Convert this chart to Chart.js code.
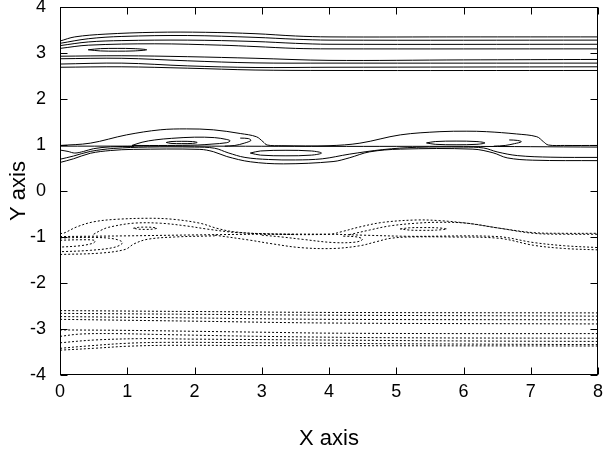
<!DOCTYPE html>
<html>
<head>
<meta charset="utf-8">
<title>contour</title>
<script src="https://cdn.jsdelivr.net/npm/chart.js@4.4.1/dist/chart.umd.min.js"></script>
<style>
  body { margin: 0; background: #fff; }
  #wrap { width: 606px; height: 454px; }
</style>
</head>
<body>
<div id="wrap"><canvas id="contourChart" width="606" height="454"></canvas></div>
<script>
// tick values
const xTicks = [0, 1, 2, 3, 4, 5, 6, 7, 8];
const yTicks = [-4, -3, -2, -1, 0, 1, 2, 3, 4];

// solid contours, band near y = 3
const top1 = [[0,3.26],[0.22,3.35],[0.67,3.41],[1.41,3.45],[2.16,3.45],[2.9,3.42],[3.5,3.37],[4.0,3.35],[6,3.35],[8,3.35]];
const top2 = [[0,3.21],[0.42,3.31],[0.92,3.36],[1.9,3.38],[2.9,3.34],[3.5,3.30],[4.0,3.28],[8,3.28]];
const top3 = [[0,3.16],[0.42,3.24],[0.92,3.27],[1.9,3.28],[2.9,3.25],[3.5,3.21],[4.0,3.19],[8,3.19]];
const top4 = [[0,3.10],[0.42,3.17],[1.41,3.20],[2.4,3.17],[2.9,3.14],[3.5,3.10],[4.0,3.09],[8,3.09]];
const topEll = [[0.42,3.07],[0.6,3.095],[0.85,3.1],[1.1,3.095],[1.29,3.07],[1.1,3.045],[0.85,3.04],[0.6,3.045],[0.42,3.07]];
const top5 = [[0,2.93],[0.92,2.94],[1.9,2.92],[2.9,2.885],[4.0,2.84],[6,2.85],[8,2.86]];
const top6 = [[0,2.875],[0.92,2.885],[1.9,2.83],[2.9,2.785],[4.0,2.78],[8,2.78]];
const top7 = [[0,2.76],[0.92,2.78],[1.9,2.72],[2.9,2.685],[4.0,2.69],[8,2.70]];
const top8 = [[0,2.69],[0.92,2.70],[1.9,2.67],[2.9,2.63],[4.0,2.62],[8,2.62]];

// solid contours, band near y = 1
const midOuterUp = [[0,0.99],[0.45,1.04],[0.99,1.22],[1.49,1.33],[1.88,1.35],[2.28,1.33],[2.68,1.25],[2.92,1.18],[3.02,1.07],[3.08,1.0],[3.3,0.985],[4.0,0.985],[4.46,1.04],[5.06,1.22],[5.65,1.29],[6.05,1.30],[6.34,1.29],[6.79,1.24],[7.09,1.18],[7.19,1.07],[7.26,1.0],[7.5,0.99],[8,0.99]];
const midOuterLow = [[0,0.62],[0.2,0.7],[0.45,0.82],[0.75,0.88],[1.09,0.905],[2.08,0.905],[2.28,0.855],[2.48,0.75],[2.83,0.635],[3.32,0.59],[4.06,0.64],[4.3,0.72],[4.6,0.85],[5.06,0.91],[6.14,0.91],[6.44,0.83],[6.65,0.72],[7.03,0.67],[8,0.66]];
const midInnerLow = [[0,0.69],[0.2,0.76],[0.45,0.86],[0.8,0.925],[1.3,0.955],[2.0,0.955],[2.3,0.93],[2.5,0.83],[2.75,0.73],[3.1,0.685],[3.5,0.675],[3.9,0.7],[4.3,0.8],[4.8,0.9],[5.3,0.95],[6.0,0.955],[6.3,0.935],[6.5,0.85],[6.8,0.77],[7.3,0.735],[8,0.73]];
const midCenter = [[0,0.975],[2,0.975],[4,0.97],[6,0.97],[8,0.955]];
const midFish = [[0,0.89],[0.12,0.86],[0.22,0.825],[0.35,0.86],[0.5,0.92],[0.75,0.96],[1.1,0.97]];
const midLoop1 = [[1.07,0.99],[1.22,1.06],[1.41,1.11],[1.66,1.145],[2.0,1.17],[2.3,1.16],[2.48,1.12],[2.53,1.09],[2.48,1.05],[2.26,1.02],[2.05,1.0],[1.6,0.99],[1.07,0.99]];
const midHook1 = [[2.45,0.975],[2.6,0.99],[2.74,1.04],[2.84,1.1],[2.8,1.14],[2.68,1.15]];
const midHook2 = [[6.45,0.975],[6.62,0.99],[6.76,1.03],[6.86,1.07],[6.8,1.1],[6.68,1.11]];
const midEll1 = [[1.58,1.055],[1.65,1.075],[1.81,1.08],[1.97,1.075],[2.04,1.055],[1.97,1.035],[1.81,1.03],[1.65,1.035],[1.58,1.055]];
const midEll2 = [[2.83,0.825],[2.98,0.87],[3.36,0.885],[3.74,0.87],[3.89,0.825],[3.74,0.78],[3.36,0.765],[2.98,0.78],[2.83,0.825]];
const midEll3 = [[5.45,1.045],[5.58,1.075],[5.89,1.085],[6.2,1.075],[6.32,1.045],[6.2,1.015],[5.89,1.005],[5.58,1.015],[5.45,1.045]];

// dotted contours, band near y = -1
const lowOuterUp = [[0,-0.92],[0.05,-0.92],[0.25,-0.78],[0.5,-0.67],[0.84,-0.615],[1.34,-0.593],[1.68,-0.615],[2.08,-0.70],[2.33,-0.81],[2.58,-0.885],[3.07,-0.935],[4.01,-0.94],[4.2,-0.88],[4.46,-0.78],[4.81,-0.68],[5.30,-0.63],[5.65,-0.645],[6.05,-0.70],[6.54,-0.81],[7.04,-0.905],[7.5,-0.92],[8,-0.92]];
const lowInnerUp1 = [[0.5,-0.94],[0.6,-0.86],[0.72,-0.79],[1.09,-0.70],[1.49,-0.70],[1.88,-0.76],[2.2,-0.83],[2.6,-0.9],[3.07,-0.93],[3.5,-0.945]];
const lowInnerUp2 = [[4.3,-0.95],[4.6,-0.85],[4.9,-0.76],[5.3,-0.70],[5.65,-0.68],[6.05,-0.70],[6.54,-0.81],[7.04,-0.92],[7.5,-0.94],[8,-0.94]];
const lowEll1 = [[1.09,-0.81],[1.17,-0.79],[1.27,-0.785],[1.37,-0.79],[1.44,-0.81],[1.37,-0.83],[1.27,-0.835],[1.17,-0.83],[1.09,-0.81]];
const lowEll2 = [[5.06,-0.825],[5.2,-0.8],[5.4,-0.795],[5.6,-0.8],[5.75,-0.825],[5.6,-0.85],[5.4,-0.855],[5.2,-0.85],[5.06,-0.825]];
const lowCenter = [[0,-0.99],[1,-0.975],[2,-0.955],[3,-0.94],[4,-0.94],[4.5,-0.96],[5.2,-0.985],[6.5,-0.99],[7.04,-1.12],[7.5,-1.19],[8,-1.23]];
const lowMidLoop = [[2.3,-0.96],[2.83,-1.07],[3.12,-1.14],[3.57,-1.23],[4.06,-1.25],[4.46,-1.19],[4.71,-1.10],[4.91,-1.03],[5.2,-1.0],[5.8,-1.0],[6.54,-1.03],[7.04,-1.18],[7.5,-1.25],[8,-1.28]];
const lowMidInner = [[3.0,-0.96],[3.3,-1.0],[3.6,-1.05],[4.06,-1.12],[4.4,-1.11],[4.5,-1.05],[4.42,-1.0],[4.2,-0.98]];
const lowLeftA = [[0,-1.07],[0.35,-1.06],[0.52,-1.075],[0.5,-1.13],[0.3,-1.19],[0,-1.22]];
const lowLeftB = [[0,-1.02],[0.5,-1.01],[0.8,-1.04],[0.93,-1.12],[0.82,-1.22],[0.45,-1.29],[0,-1.32]];
const lowLeftC = [[0,-1.38],[0.6,-1.35],[0.97,-1.27],[1.1,-1.15],[1.3,-1.05],[1.7,-1.0],[2.3,-0.975]];

// dotted contours, band near y = -3
const bot1 = [[0,-2.60],[2,-2.62],[4,-2.64],[8,-2.65]];
const bot2 = [[0,-2.66],[2,-2.68],[4,-2.70],[8,-2.72]];
const bot3 = [[0,-2.73],[2,-2.76],[4,-2.79],[8,-2.80]];
const bot4 = [[0,-2.79],[2,-2.83],[4,-2.87],[8,-2.89]];
const bot5 = [[0,-3.02],[1,-3.03],[2,-3.05],[3,-3.07],[4,-3.09],[6,-3.10],[8,-3.10]];
const bot6 = [[0,-3.16],[0.3,-3.11],[0.8,-3.10],[1.5,-3.12],[3,-3.16],[5,-3.19],[8,-3.20]];
const bot7 = [[0,-3.30],[0.5,-3.24],[1.2,-3.21],[2,-3.22],[4,-3.24],[6,-3.26],[8,-3.27]];
const bot8 = [[0,-3.42],[0.4,-3.37],[1,-3.31],[1.6,-3.29],[3,-3.30],[5,-3.32],[8,-3.34]];
const bot9 = [[0,-3.46],[0.5,-3.42],[1.0,-3.375],[1.6,-3.355],[3,-3.36],[8,-3.37]];

const solidLines = [top1, top2, top3, top4, topEll, top5, top6, top7, top8,
  midOuterUp, midOuterLow, midInnerLow, midCenter, midFish, midLoop1, midHook1, midHook2, midEll1, midEll2, midEll3];
const dottedLines = [lowOuterUp, lowInnerUp1, lowInnerUp2, lowEll1, lowEll2, lowCenter, lowMidLoop, lowMidInner,
  lowLeftA, lowLeftB, lowLeftC, bot1, bot2, bot3, bot4, bot5, bot6, bot7, bot8, bot9];

function makeSet(pts, dash) {
  return {
    data: pts.map(p => ({ x: p[0], y: p[1] })),
    showLine: true,
    borderColor: '#000',
    borderWidth: 1,
    borderDash: dash,
    pointRadius: 0,
    tension: 0.35,
    fill: false
  };
}

const datasets = solidLines.map(l => makeSet(l, []))
  .concat(dottedLines.map(l => makeSet(l, [2, 2])));

// ticks drawn inside the frame, plus the closed border
const frameTicks = {
  id: 'frameTicks',
  afterDatasetsDraw(chart) {
    const { ctx, chartArea: a, scales } = chart;
    const L = Math.round(a.left) + 0.5, R = Math.round(a.right) - 0.5;
    const T = Math.round(a.top) + 0.5, B = Math.round(a.bottom) - 0.5;
    ctx.save();
    ctx.strokeStyle = '#000';
    ctx.lineWidth = 1;
    ctx.beginPath();
    xTicks.forEach(v => {
      const px = Math.round(scales.x.getPixelForValue(v)) + 0.5;
      ctx.moveTo(px, B); ctx.lineTo(px, B - 7);
      ctx.moveTo(px, T); ctx.lineTo(px, T + 7);
    });
    yTicks.forEach(v => {
      const py = Math.round(scales.y.getPixelForValue(v)) + 0.5;
      ctx.moveTo(L, py); ctx.lineTo(L + 7, py);
      ctx.moveTo(R, py); ctx.lineTo(R - 7, py);
    });
    ctx.stroke();
    ctx.strokeRect(L, T, R - L, B - T);
    ctx.restore();
  }
};

const fontFam = '"Liberation Sans", Arial, Helvetica, sans-serif';

new Chart(document.getElementById('contourChart').getContext('2d'), {
  type: 'scatter',
  data: { datasets: datasets },
  options: {
    responsive: false,
    animation: false,
    events: [],
    layout: { padding: { top: 7, right: 8, left: 0, bottom: 0 } },
    plugins: { legend: { display: false }, tooltip: { enabled: false } },
    scales: {
      x: {
        type: 'linear',
        min: 0,
        max: 8,
        afterBuildTicks: s => { s.ticks = xTicks.map(v => ({ value: v })); },
        afterFit: s => { s.height = 79; s.paddingLeft = 0; s.paddingRight = 0; },
        ticks: { color: '#000', padding: 6, font: { family: fontFam, size: 18 } },
        grid: { drawOnChartArea: false, drawTicks: false },
        border: { display: false },
        title: { display: true, text: 'X axis', color: '#000', padding: { top: 0, bottom: 2 }, font: { family: fontFam, size: 22 } }
      },
      y: {
        type: 'linear',
        min: -4,
        max: 4,
        afterBuildTicks: s => { s.ticks = yTicks.map(v => ({ value: v })); },
        afterFit: s => { s.width = 60; s.paddingTop = 0; s.paddingBottom = 0; },
        ticks: { color: '#000', padding: 14, font: { family: fontFam, size: 18 } },
        grid: { drawOnChartArea: false, drawTicks: false },
        border: { display: false },
        title: { display: true, text: 'Y axis', color: '#000', padding: { top: 6, bottom: 0 }, font: { family: fontFam, size: 22 } }
      }
    }
  },
  plugins: [frameTicks]
});
</script>
</body>
</html>
